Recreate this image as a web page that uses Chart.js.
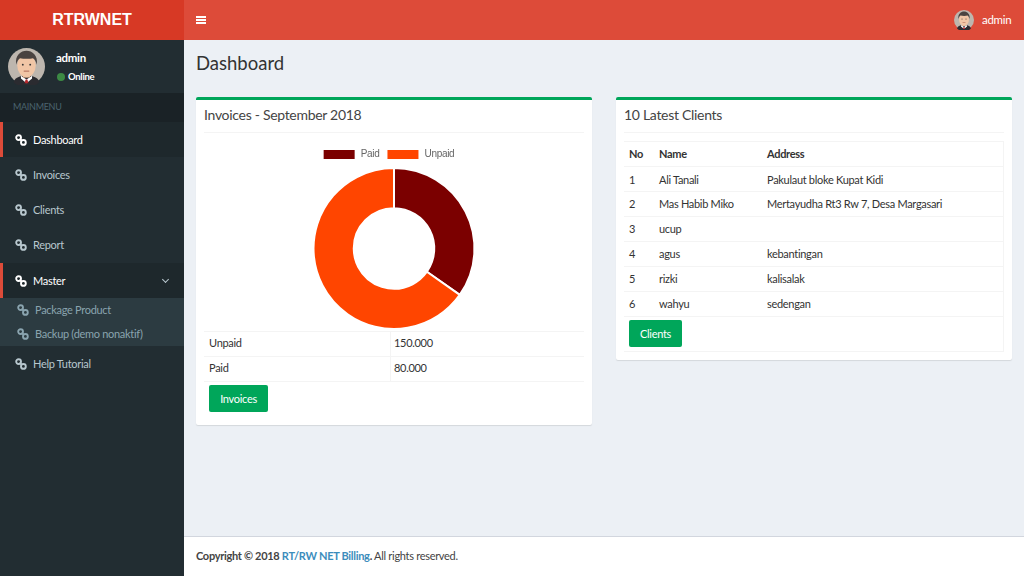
<!DOCTYPE html>
<html>
<head>
<meta charset="utf-8">
<title>Dashboard</title>
<script src="https://cdn.jsdelivr.net/npm/chart.js@4"></script>
<style>
  * { box-sizing: border-box; }
  html, body { margin: 0; width: 1024px; height: 576px; overflow: hidden; background: #ecf0f5;
    font-family: Lato, sans-serif; font-size: 11px; letter-spacing: -0.3px; color: #333; }
  .abs { position: absolute; white-space: nowrap; }
  .row { line-height: 16px; margin-top: -8px; }

  .logo { left: 0; top: 0; width: 184px; height: 40px; background: #d73925; color: #fff; letter-spacing: 0;
    font: bold 16px/40px "Liberation Sans", sans-serif; text-align: center; }
  .navbar { left: 184px; top: 0; width: 840px; height: 40px; background: #dd4b39; }
  .side { left: 0; top: 40px; width: 184px; height: 536px; background: #222d32; }
  .menu-head { left: 0; top: 93px; width: 184px; height: 29px; background: #1a2226; color: #4b646f;
    font-size: 9px; line-height: 27px; padding-left: 13px; }
  .item { left: 0; width: 184px; height: 35px; color: #b8c7ce; line-height: 35px; padding-left: 33px; }
  .item.on { background: #1e282c; color: #fff; border-left: 3px solid #dd4b39; padding-left: 30px; }
  .sub { left: 0; top: 298px; width: 184px; height: 48px; background: #2c3b41; }
  .sub-item { left: 35px; color: #8aa4af; }
  .link { width: 12px; height: 12px; }

  .box { background: #fff; border-top: 3px solid #00a65a; border-radius: 2px; box-shadow: 0 1px 1px rgba(0,0,0,.1); }
  .box-title { font-size: 14px; letter-spacing: -0.3px; color: #444; }
  .line { height: 1px; background: #f4f4f4; }
  .btn { background: #00a65a; color: #fff; border-radius: 2px; height: 27px; line-height: 27px; text-align: center; }
  canvas { position: absolute; }
</style>
</head>
<body>
<svg width="0" height="0" style="position:absolute">
  <symbol id="avatar" viewBox="0 0 40 40">
    <circle cx="20" cy="20" r="20" fill="#bdb6ae"/>
    <path d="M6 37c2-6 8-7 14-7s12 1 14 7a20 20 0 0 1-28 0z" fill="#2b2b30"/>
    <path d="M14 30l6 4 6-4v3l-6 5-6-5z" fill="#fff"/>
    <path d="M19 34h2l1 4h-4z" fill="#b3262a"/>
    <rect x="16" y="25" width="8" height="7" fill="#e2b08e"/>
    <ellipse cx="20" cy="19" rx="10" ry="12.5" fill="#f1c6a6"/>
    <path d="M9 18c-2-10 5-15 11-15s13 5 11 15c-1-4-2-6-4-7-3 1-10 1-14 0-2 1-3 3-4 7z" fill="#4a4340"/>
    <circle cx="16" cy="18" r="1" fill="#333"/><circle cx="24" cy="18" r="1" fill="#333"/>
    <path d="M17 25h6" stroke="#a8614f" stroke-width="1"/>
  </symbol>
  <symbol id="linkIcon" viewBox="0 0 12 12">
    <circle cx="3.6" cy="3.6" r="2.4" fill="none" stroke="currentColor" stroke-width="1.9"/>
    <circle cx="8.4" cy="8.4" r="2.4" fill="none" stroke="currentColor" stroke-width="1.9"/>
    <path d="M4.8 4.8l2.4 2.4" stroke="currentColor" stroke-width="1.9"/>
  </symbol>
</svg>

<div class="abs logo">RTRWNET</div>
<div class="abs navbar"></div>
<div class="abs" style="left:196px;top:16px;width:10px;height:8px;border-top:2px solid #fff;border-bottom:2px solid #fff"></div>
<div class="abs" style="left:196px;top:19px;width:10px;height:2px;background:#fff"></div>
<svg class="abs" style="left:954px;top:10px" width="20" height="20"><use href="#avatar"/></svg>
<div class="abs row" style="left:982px;top:20px;color:#fff;font-size:11.5px">admin</div>

<div class="abs side"></div>
<svg class="abs" style="left:8px;top:48px" width="37" height="37"><use href="#avatar"/></svg>
<div class="abs row" style="left:56px;top:58px;color:#fff;font-weight:700;font-size:11.5px">admin</div>
<div class="abs" style="left:57px;top:73px;width:8px;height:8px;border-radius:50%;background:#3c8a44"></div>
<div class="abs row" style="left:68px;top:77px;color:#fff;font-size:9.5px;font-weight:700">Online</div>
<div class="abs menu-head">MAINMENU</div>
<div class="abs sub"></div>
<div id="menu"></div>

<div class="abs row" style="left:196px;top:63px;font-size:18.5px;line-height:24px;margin-top:-12px;letter-spacing:0;color:#333">Dashboard</div>

<!-- Invoices panel -->
<div class="abs box" style="left:196px;top:97px;width:396px;height:328px"></div>
<div class="abs row box-title" style="left:204px;top:115px">Invoices - September 2018</div>
<div class="abs line" style="left:204px;top:132px;width:380px"></div>
<div class="abs" style="left:204px;top:139px;width:380px;height:191px"><canvas id="invoiceChart"></canvas></div>
<div id="totals"></div>
<div class="abs btn" style="left:209px;top:385px;width:59px">Invoices</div>

<!-- Clients panel -->
<div class="abs box" style="left:616px;top:97px;width:396px;height:263px"></div>
<div class="abs row box-title" style="left:624px;top:115px">10 Latest Clients</div>
<div class="abs line" style="left:624px;top:132px;width:380px"></div>
<div id="clients"></div>
<div class="abs btn" style="left:629px;top:320px;width:53px">Clients</div>

<div class="abs" style="left:184px;top:536px;width:840px;height:40px;background:#fff;border-top:1px solid #d2d6de"></div>
<div class="abs row" style="left:196px;top:556px;color:#444"><b>Copyright © 2018 <span style="color:#3c8dbc">RT/RW NET Billing</span>.</b> All rights reserved.</div>

<script>
// ── Data ──────────────────────────────────────────────────────────────────────
const CHART_LABELS = ['Paid', 'Unpaid'];
const CHART_VALUES = [80000, 150000];
const CHART_COLORS = ['#7b0000', '#ff4500'];

const TOTAL_NAMES = ['Unpaid', 'Paid'];
const TOTAL_TEXTS = ['150.000', '80.000'];

const CLIENT_HEAD = ['No', 'Name', 'Address'];
const CLIENT_NAMES = ['Ali Tanali', 'Mas Habib Miko', 'ucup', 'agus', 'rizki', 'wahyu'];
const CLIENT_ADDRESSES = ['Pakulaut bloke Kupat Kidi', 'Mertayudha Rt3 Rw 7, Desa Margasari', '', 'kebantingan', 'kalisalak', 'sedengan'];

const MENU_NAMES = ['Dashboard', 'Invoices', 'Clients', 'Report', 'Master', 'Help Tutorial'];
const MENU_TOPS = [122, 157, 192, 227, 263, 346];
const SUB_NAMES = ['Package Product', 'Backup (demo nonaktif)'];
const SUB_TOPS = [310, 334];

// ── Page furniture ────────────────────────────────────────────────────────────

function put(parent, css, style, text) {
  const el = document.createElement('div');
  el.className = 'abs ' + css;
  el.style.cssText = style;
  el.textContent = text;
  parent.appendChild(el);
  return el;
}

function linkIcon(parent, x, y, color) {
  parent.insertAdjacentHTML('beforeend',
    `<svg class="abs link" style="left:${x}px;top:${y}px;color:${color}"><use href="#linkIcon"/></svg>`);
}

const menu = document.getElementById('menu');
MENU_NAMES.forEach((name, i) => {
  const on = name === 'Dashboard' || name === 'Master';
  put(menu, on ? 'item on' : 'item', `top:${MENU_TOPS[i]}px`, name);
  linkIcon(menu, 15, MENU_TOPS[i] + 12, on ? '#fff' : '#b8c7ce');
});
put(menu, '', 'left:163px;top:277px;width:5px;height:5px;border:solid #b8c7ce;border-width:0 1.5px 1.5px 0;transform:rotate(45deg)', '');
SUB_NAMES.forEach((name, i) => {
  put(menu, 'row sub-item', `top:${SUB_TOPS[i]}px`, name);
  linkIcon(menu, 17, SUB_TOPS[i] - 6, '#8aa4af');
});

const totals = document.getElementById('totals');
[331, 356, 381].forEach(y => put(totals, 'line', `left:204px;top:${y}px;width:380px`, ''));
put(totals, 'line', 'left:390px;top:331px;width:1px;height:50px', '');
TOTAL_NAMES.forEach((name, i) => {
  const y = 343 + i * 25;
  put(totals, 'row', `left:209px;top:${y}px`, name);
  put(totals, 'row', `left:394px;top:${y}px`, TOTAL_TEXTS[i]);
});

const clients = document.getElementById('clients');
[141, 166, 191, 216, 241, 266, 291, 316, 351].forEach(y => put(clients, 'line', `left:624px;top:${y}px;width:380px`, ''));
put(clients, 'line', 'left:1003px;top:141px;width:1px;height:210px', '');
CLIENT_HEAD.forEach((text, i) => {
  put(clients, 'row', `left:${[629, 659, 767][i]}px;top:154px;font-weight:700`, text);
});
CLIENT_NAMES.forEach((name, i) => {
  const y = Math.round(179.5 + i * 24.8);
  put(clients, 'row', `left:629px;top:${y}px`, String(i + 1));
  put(clients, 'row', `left:659px;top:${y}px`, name);
  put(clients, 'row', `left:767px;top:${y}px`, CLIENT_ADDRESSES[i]);
});

// ── Chart ─────────────────────────────────────────────────────────────────────

// the legend sits a little left of the doughnut's centre in the reference
const legendNudge = {
  id: 'legendNudge',
  afterLayout(chart) {
    chart.legend.left -= 5.5;
    chart.legend.right -= 5.5;
    chart.legend.top += 3;
    chart.legend.bottom += 3;
  },
};

new Chart(document.getElementById('invoiceChart'), {
  type: 'doughnut',
  plugins: [legendNudge],
  data: {
    labels: CHART_LABELS,
    datasets: [{
      data: CHART_VALUES,
      backgroundColor: CHART_COLORS,
      borderColor: '#fff',
      borderWidth: 2,
    }],
  },
  options: {
    responsive: true,
    maintainAspectRatio: false,
    animation: false,
    cutout: '50%',
    plugins: {
      legend: {
        position: 'top',
        labels: {
          boxWidth: 33,
          boxHeight: 11,
          padding: 7,
          color: '#666',
          font: { family: '"Liberation Sans", sans-serif', size: 10 },
        },
      },
      tooltip: { enabled: false },
    },
  },
});
</script>
</body>
</html>
